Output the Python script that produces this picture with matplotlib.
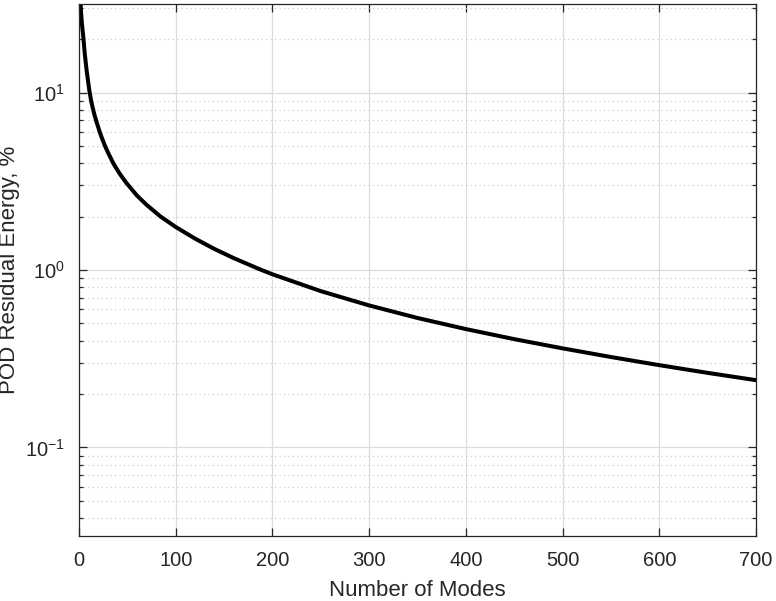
import numpy as np
import matplotlib
matplotlib.use("Agg")
from matplotlib import pyplot as plt
from matplotlib.ticker import LogLocator, NullFormatter

# values
modes = [1, 2, 3, 4.5, 6, 8, 10.7, 12.4, 14, 16, 18.3, 21.7, 24, 27, 30, 35.5, 42, 49,
         60, 70, 84, 100, 120, 140, 160, 187, 200, 250, 300, 350, 400, 450, 500,
         550, 600, 650, 700]
energy = [40, 29, 24.5, 20.5, 16.5, 13.2, 10.3, 9.1, 8.3, 7.5, 6.8, 5.95, 5.5, 5.0, 4.6,
          4.0, 3.5, 3.1, 2.63, 2.33, 2.01, 1.75, 1.505, 1.316, 1.168, 1.01, 0.947,
          0.761, 0.632, 0.537, 0.465, 0.408, 0.362, 0.3235, 0.291, 0.2633, 0.2395]

xticks = [0, 100, 200, 300, 400, 500, 600, 700]

plt.rcParams['font.family'] = ['Liberation Sans', 'DejaVu Sans']
plt.rcParams['mathtext.fontset'] = 'custom'
plt.rcParams['mathtext.rm'] = 'Liberation Sans'
plt.rcParams['mathtext.it'] = 'Liberation Sans'

txt = '#262626'
fig = plt.figure(figsize=(7.76, 6.01), dpi=100)
ax = fig.add_axes([0.1018, 0.108, 0.8724, 0.8852])

ax.plot(modes, energy, color='k', lw=2.9, solid_joinstyle='round')
ax.set_yscale('log')
ax.set_xlim(0, 700)
ax.set_ylim(10**-1.5, 10**1.5)
ax.set_xticks(xticks)
ax.yaxis.set_major_locator(LogLocator(base=10, numticks=10))
ax.yaxis.set_minor_locator(LogLocator(base=10, subs=np.arange(2, 10), numticks=10))
ax.yaxis.set_minor_formatter(NullFormatter())

ax.grid(True, which='major', color='#dcdcdc', lw=0.9, ls='-')
ax.grid(True, which='minor', axis='y', color='#c8c8c8', lw=0.8, ls=(0, (1, 3)))
ax.set_axisbelow(True)

ax.tick_params(which='both', direction='in', top=True, right=True,
               colors=txt, labelsize=14.5)
ax.tick_params(axis='x', which='both', pad=11)
ax.tick_params(axis='y', which='both', pad=10)
ax.tick_params(which='major', length=5.5, width=0.9)
ax.tick_params(which='minor', length=3, width=0.9)
for s in ax.spines.values():
    s.set_color(txt)
    s.set_linewidth(0.9)

ax.set_xlabel('Number of Modes', fontsize=16, color=txt)
ax.set_ylabel('POD Residual Energy, %', fontsize=16, color=txt)
ax.xaxis.set_label_coords(0.5, -0.082)
ax.yaxis.set_label_coords(-0.087, 0.5)

fig.savefig('out.png', dpi=100)
